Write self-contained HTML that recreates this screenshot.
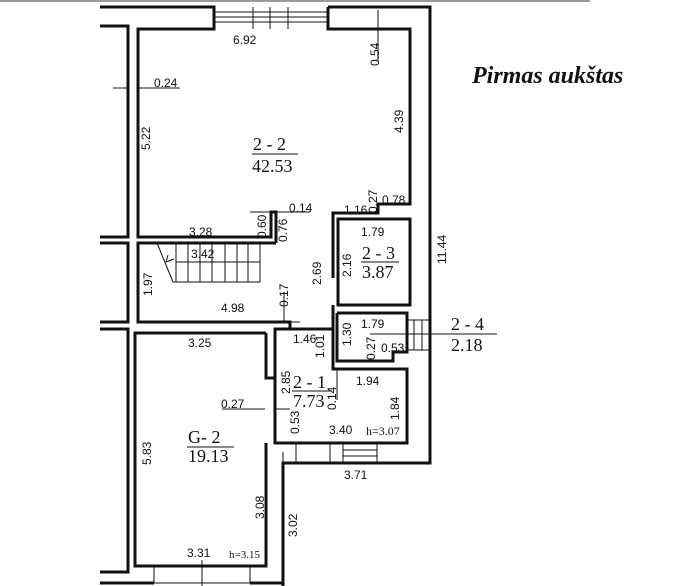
<!DOCTYPE html>
<html><head><meta charset="utf-8"><style>
html,body{margin:0;padding:0;background:#fff;}
svg{display:block;}
text{font-family:"Liberation Sans",sans-serif;font-size:12px;fill:#111;}
.s{font-family:"Liberation Serif",serif;font-size:18px;}
</style></head><body>
<svg width="696" height="586" viewBox="0 0 696 586" xmlns="http://www.w3.org/2000/svg">
<rect width="696" height="586" fill="#fff"/>
<line x1="0" y1="1" x2="590" y2="1" stroke="#999" stroke-width="2"/>
<g fill="none" stroke="#111" stroke-width="3">
<polyline points="100,7 214,7 214,29 138,29 138,237 271,237 271,212 276,212 276,243"/>
<polyline points="328,7 430,7 430,463 283,463 283,586"/>
<polyline points="328,7 328,29 410,29 410,204 378,204 378,213 333,213 333,278"/>
<polyline points="100,26 128,26 128,237 100,237"/>
<polyline points="100,243 128,243 128,322 100,322"/>
<polyline points="100,329 128,329 128,572 100,572"/>
<polyline points="276,243 138,243 138,322 290,322 290,329 333,329 333,305"/>
<rect x="338" y="219" width="72" height="86"/>
<polyline points="337,313 407,313 407,352 393,352 393,361 337,361 337,313"/>
<polyline points="333,305 333,369 407,369 407,443 275,443 275,329 290,329"/>
<polyline points="266,333 135,333 135,566 266,566 266,443"/>
<polyline points="266,333 266,378 275,378"/>
<polyline points="100,583 154,583"/>
<polyline points="250,583 283,583"/>
</g>
<g fill="none" stroke="#111" stroke-width="1">
<line x1="214" y1="12" x2="328" y2="12"/><line x1="214" y1="17" x2="328" y2="17"/><line x1="214" y1="22" x2="328" y2="22"/>
<line x1="253" y1="7" x2="253" y2="29"/><line x1="270" y1="7" x2="270" y2="29"/><line x1="288" y1="7" x2="288" y2="29"/>
<rect x="154" y="566" width="96" height="17"/>
<line x1="202" y1="560" x2="202" y2="586"/>
<line x1="157" y1="243" x2="173" y2="282"/>
<line x1="173" y1="282" x2="260" y2="282"/>
<line x1="176" y1="262" x2="260" y2="262"/>
<line x1="176" y1="243" x2="176" y2="282"/><line x1="188" y1="243" x2="188" y2="282"/><line x1="200" y1="243" x2="200" y2="282"/><line x1="212" y1="243" x2="212" y2="282"/><line x1="225" y1="243" x2="225" y2="282"/><line x1="237" y1="243" x2="237" y2="282"/><line x1="248" y1="243" x2="248" y2="282"/><line x1="260" y1="243" x2="260" y2="282"/>
<polyline points="168,255 166,262 174,259"/>
<rect x="407" y="320" width="23" height="30"/>
<line x1="414" y1="320" x2="414" y2="350"/><line x1="422" y1="320" x2="422" y2="350"/>
<line x1="370" y1="334" x2="497" y2="334"/>
<rect x="330" y="443" width="47" height="20"/>
<line x1="343" y1="443" x2="343" y2="463"/>
<line x1="343" y1="450" x2="377" y2="450"/><line x1="343" y1="456" x2="377" y2="456"/>
<line x1="296" y1="443" x2="296" y2="463"/>
<line x1="113" y1="88" x2="128" y2="88"/><line x1="138" y1="88" x2="180" y2="88"/>
<line x1="378" y1="10" x2="378" y2="62"/>
<line x1="250" y1="212" x2="310" y2="212"/>
<line x1="277" y1="322" x2="300" y2="322"/>
<line x1="222" y1="409" x2="265" y2="409"/><line x1="276" y1="409" x2="290" y2="409"/>
<line x1="284" y1="322" x2="284" y2="292"/>
<line x1="337" y1="369" x2="337" y2="400"/>
<line x1="283" y1="452" x2="283" y2="463"/>
</g>
<text x="233" y="44">6.92</text>
<text x="154" y="87">0.24</text>
<text transform="translate(150,150) rotate(-90)">5.22</text>
<text transform="translate(379,66) rotate(-90)">0.54</text>
<text transform="translate(403,133) rotate(-90)">4.39</text>
<text class="s" x="253" y="150">2 - 2</text>
<line x1="252" y1="154" x2="298" y2="154" stroke="#111" stroke-width="1"/>
<text class="s" x="252" y="172">42.53</text>
<text transform="translate(377,213) rotate(-90)">0.27</text>
<text x="382" y="204">0.78</text>
<text x="344" y="214">1.16</text>
<text x="289" y="212">0.14</text>
<text x="189" y="236">3.28</text>
<text transform="translate(266,238) rotate(-90)">0.60</text>
<text transform="translate(287,242) rotate(-90)">0.76</text>
<text x="191" y="258">3.42</text>
<text transform="translate(152,296) rotate(-90)">1.97</text>
<text x="221" y="312">4.98</text>
<text transform="translate(288,307) rotate(-90)">0.17</text>
<text transform="translate(321,285) rotate(-90)">2.69</text>
<text transform="translate(351,277) rotate(-90)">2.16</text>
<text x="361" y="236">1.79</text>
<text class="s" x="362" y="259">2 - 3</text>
<line x1="361" y1="262" x2="399" y2="262" stroke="#111" stroke-width="1"/>
<text class="s" x="362" y="278">3.87</text>
<text x="361" y="328">1.79</text>
<text transform="translate(351,346) rotate(-90)">1.30</text>
<text transform="translate(375,360) rotate(-90)">0.27</text>
<text x="381" y="352">0.53</text>
<text class="s" x="451" y="330">2 - 4</text>
<text class="s" x="451" y="351">2.18</text>
<text x="293" y="343">1.46</text>
<text transform="translate(324,358) rotate(-90)">1.01</text>
<text x="188" y="347">3.25</text>
<text transform="translate(290,394) rotate(-90)">2.85</text>
<text class="s" x="293" y="388">2 - 1</text>
<line x1="292" y1="391" x2="332" y2="391" stroke="#111" stroke-width="1"/>
<text class="s" x="293" y="407">7.73</text>
<text transform="translate(336,410) rotate(-90)">0.14</text>
<text x="356" y="385">1.94</text>
<text transform="translate(399,420) rotate(-90)">1.84</text>
<text x="221" y="408">0.27</text>
<text transform="translate(299,434) rotate(-90)">0.53</text>
<text x="329" y="434">3.40</text>
<text x="366" y="435" style="font-family:'Liberation Serif',serif">h=3.07</text>
<text class="s" x="188" y="443">G- 2</text>
<line x1="187" y1="447" x2="234" y2="447" stroke="#111" stroke-width="1"/>
<text class="s" x="188" y="462">19.13</text>
<text transform="translate(151,465) rotate(-90)">5.83</text>
<text x="344" y="479">3.71</text>
<text transform="translate(264,519) rotate(-90)">3.08</text>
<text transform="translate(297,537) rotate(-90)">3.02</text>
<text x="187" y="557">3.31</text>
<text x="229" y="558" style="font-family:'Liberation Serif',serif;font-size:11px">h=3.15</text>
<text transform="translate(446,264) rotate(-90)">11.44</text>
<text x="472" y="83" style="font-family:'Liberation Serif',serif;font-size:24px;font-weight:bold;font-style:italic">Pirmas aukštas</text>
</svg>
</body></html>
